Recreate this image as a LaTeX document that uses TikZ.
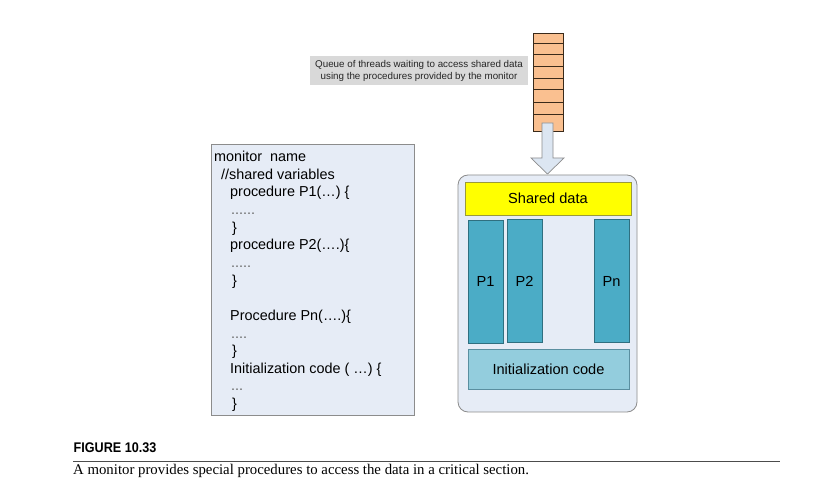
\documentclass[tikz,border=0pt]{standalone}
\usepackage{fontspec}
\setmainfont{Liberation Sans}
\newfontfamily\capserif{Liberation Serif}
\newfontfamily\figfont[FakeStretch=0.9]{Liberation Sans}
\usetikzlibrary{positioning}
\definecolor{boxbg}{HTML}{E6ECF6}
\definecolor{boxline}{HTML}{8C8C8C}
\definecolor{qfill}{HTML}{FAC090}
\definecolor{qline}{HTML}{3A2A1A}
\definecolor{arrfill}{HTML}{DCE6F2}
\definecolor{pfill}{HTML}{4BACC6}
\definecolor{pline}{HTML}{2F6F80}
\definecolor{initfill}{HTML}{93CDDD}
\definecolor{initline}{HTML}{5A8FA0}
\definecolor{ylw}{HTML}{FFFF00}
\definecolor{ylwline}{HTML}{9A9A3A}
\definecolor{lblgray}{HTML}{D9D9D9}
\tikzset{
  pbox/.style={draw=pline, fill=pfill, line width=0.8pt, font=\fontsize{14.6}{16}\selectfont},
  txt/.style={inner sep=0pt, text=black}
}
\newcommand{\dts}[1]{\textcolor{black!60}{#1}}
\begin{document}
\begin{tikzpicture}[x=1pt,y=-1pt]
\useasboundingbox[fill=white] (0,0) rectangle (831,494);
% queue
\draw[qline, fill=qfill, line width=0.8pt] (533,33) rectangle (563,131);
\foreach \yy in {43,54,66,78,89,102,114} \draw[qline, line width=0.8pt] (533,\yy) -- (563,\yy);
\coordinate (queue) at (548,131);
% label
\node[fill=lblgray, minimum width=218pt, minimum height=29pt, inner sep=0pt, align=center,
  font=\fontsize{9.8}{12}\selectfont, text=black!85] (label) at (419,70.5)
  {Queue of threads waiting to access shared data\\using the procedures provided by the monitor};
% arrow
\draw[boxline, fill=arrfill, line width=0.7pt] (542,123) -- (553,123) -- (553,158) -- (564,158)
  -- (547.5,174) -- (531,158) -- (542,158) -- cycle;
% code box
\node[draw=boxline, fill=boxbg, line width=0.8pt, minimum width=203pt, minimum height=271pt,
  inner sep=0pt] (code) at (312.5,279.5) {};
\node[txt, anchor=north west, align=left, font=\fontsize{14.4}{17.64}\selectfont] (codetext) at (214,151)
{monitor\ \ name\\
\hspace*{7pt}//shared variables\\
\hspace*{16pt}procedure P1(\dots) \{\\
\hspace*{17pt}\dts{......}\\
\hspace*{18pt}\}\\
\hspace*{16pt}procedure P2(\dots.)\{\\
\hspace*{17pt}\dts{.....}\\
\hspace*{18pt}\}\\
\mbox{}\\
\hspace*{16pt}Procedure Pn(\dots.)\{\\
\hspace*{17pt}\dts{....}\\
\hspace*{18pt}\}\\
\hspace*{16pt}Initialization code ( \dots) \{\\
\hspace*{17pt}\dts{...}\\
\hspace*{18pt}\}};
% monitor container
\draw[boxline, fill=boxbg, line width=0.8pt, rounded corners=10pt] (458,175) rectangle (637,412);
\coordinate (mtop) at (547.5,175);
\node[draw=ylwline, fill=ylw, line width=0.8pt, minimum width=166pt, minimum height=33pt, inner sep=0pt,
  font=\fontsize{14.6}{16}\selectfont] (shared) at (548,198.5) {Shared data};
\node[pbox, minimum width=35pt, minimum height=123pt, inner sep=0pt] (p1) at (485.5,281.5) {P1};
\node[pbox, minimum width=35pt, minimum height=123pt, inner sep=0pt] (p2) at (524.5,281) {P2};
\node[pbox, minimum width=35pt, minimum height=123pt, inner sep=0pt] (pn) at (611.5,281) {Pn};
\node[draw=initline, fill=initfill, line width=0.8pt, minimum width=161pt, minimum height=40pt, inner sep=0pt,
  font=\fontsize{14.6}{16}\selectfont] (init) at (548.5,369) {Initialization code};
% caption
\node[txt, anchor=base west, font=\figfont\fontsize{14}{16}\selectfont\bfseries] (fig) at (73.5,452.3) {FIGURE 10.33};
\draw[black!70, line width=0.9pt] (73,461) -- (780,461);
\node[txt, anchor=base west, font=\capserif\fontsize{14.8}{16}\selectfont] (cap) at (73,475)
  {A monitor provides special procedures to access the data in a critical section.};
\end{tikzpicture}
\end{document}
